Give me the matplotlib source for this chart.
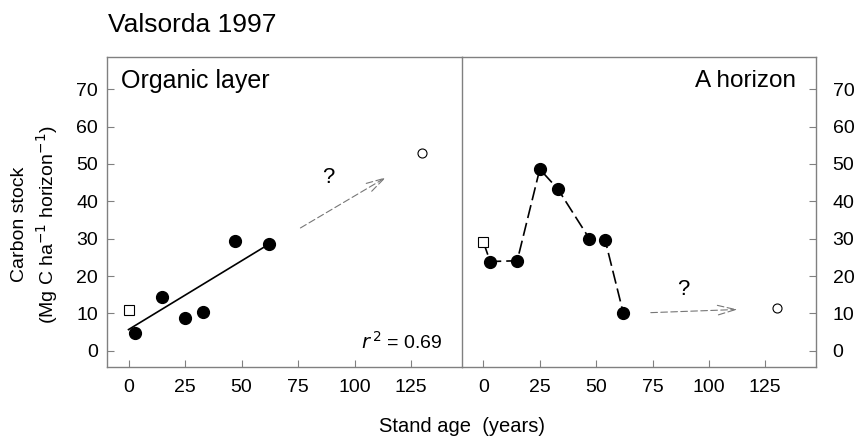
import matplotlib
matplotlib.use("Agg")
import matplotlib.pyplot as plt

plt.rcParams['font.family'] = ['Liberation Sans', 'DejaVu Sans']

# Organic layer data
org_age = [3, 15, 25, 33, 47, 62]
org_c = [4.8, 14.3, 8.7, 10.3, 29.5, 28.6]
org_ref_age = [0]
org_ref_c = [10.9]
org_old_age = [130]
org_old_c = [53.0]
org_fit_age = [0, 62]
org_fit_c = [5.7, 28.5]
org_arrow = [(75, 32.5), (115, 46.8)]

# A horizon data
ah_age = [0, 3, 15, 25, 33, 47, 54, 62]
ah_c = [29.1, 23.9, 24.1, 48.6, 43.3, 30.0, 29.6, 10.2]
ah_old_age = [130]
ah_old_c = [11.5]
ah_arrow = [(73, 10.2), (114, 11.1)]

xticks = [0, 25, 50, 75, 100, 125]
yticks = [0, 10, 20, 30, 40, 50, 60, 70]

fig = plt.figure(figsize=(8.59, 4.40), dpi=100)
ax1 = fig.add_axes([0.1246, 0.166, 0.4132, 0.7045])
ax2 = fig.add_axes([0.5378, 0.166, 0.4122, 0.7045])

spine_col = '#808080'
for ax in (ax1, ax2):
    ax.set_xlim(-9.5, 147.5)
    ax.set_ylim(-4.3, 78.6)
    ax.set_xticks(xticks)
    ax.set_yticks(yticks)
    ax.tick_params(direction='in', length=5, color=spine_col, labelsize=14, pad=8.5)
    for s in ax.spines.values():
        s.set_color(spine_col)
        s.set_linewidth(1.0)

ax1.tick_params(axis='y', left=True, right=False, pad=6.5)
ax2.tick_params(axis='y', left=False, right=True, labelleft=False, labelright=True, pad=12)
ax1.spines['right'].set_visible(False)

# Left panel
ax1.plot(org_fit_age, org_fit_c, color='black', lw=1.2, zorder=2)
ax1.plot(org_age, org_c, 'o', color='black', ms=8.5, zorder=3)
ax1.plot(org_ref_age, org_ref_c, 's', mfc='white', mec='black', ms=6.5, mew=0.8, zorder=3)
ax1.plot(org_old_age, org_old_c, 'o', mfc='white', mec='black', ms=6.5, mew=0.8, zorder=3)
ax1.annotate('', xy=org_arrow[1], xytext=org_arrow[0],
             arrowprops=dict(arrowstyle='->,head_length=1.3,head_width=0.35',
                             color='#777777', lw=0.8, linestyle=(0, (6, 3))))
ax1.text(88.5, 46.5, '?', fontsize=16, ha='center', va='center')
ax1.text(-3.5, 72.3, 'Organic layer', fontsize=18, ha='left', va='center')
ax1.text(139, 2.5, r'$\it{r}^{\,2}$ = 0.69', fontsize=14, ha='right', va='center')

# Right panel
ax2.plot(ah_age, ah_c, color='black', lw=1.2, linestyle=(0, (8, 3)), zorder=2)
ax2.plot(ah_age[1:], ah_c[1:], 'o', color='black', ms=8.5, zorder=3)
ax2.plot(ah_age[:1], ah_c[:1], 's', mfc='white', mec='black', ms=6.5, mew=0.8, zorder=3)
ax2.plot(ah_old_age, ah_old_c, 'o', mfc='white', mec='black', ms=6.5, mew=0.8, zorder=3)
ax2.annotate('', xy=ah_arrow[1], xytext=ah_arrow[0],
             arrowprops=dict(arrowstyle='->,head_length=1.3,head_width=0.35',
                             color='#777777', lw=0.8, linestyle=(0, (6, 3))))
ax2.text(88.7, 16.3, '?', fontsize=16, ha='center', va='center')
ax2.text(138.5, 72.3, 'A horizon', fontsize=17.5, ha='right', va='center')

fig.text(0.126, 0.943, 'Valsorda 1997', fontsize=19, ha='left', va='center')
fig.text(0.5378, 0.03, 'Stand age  (years)', fontsize=14.5, ha='center', va='center')
fig.text(0.023, 0.49, 'Carbon stock', fontsize=14, rotation=90, ha='center', va='center')
fig.text(0.055, 0.49, r'(Mg C ha$^{-1}$ horizon$^{-1}$)', fontsize=14, rotation=90,
         ha='center', va='center')

fig.savefig('out.png', dpi=100)
